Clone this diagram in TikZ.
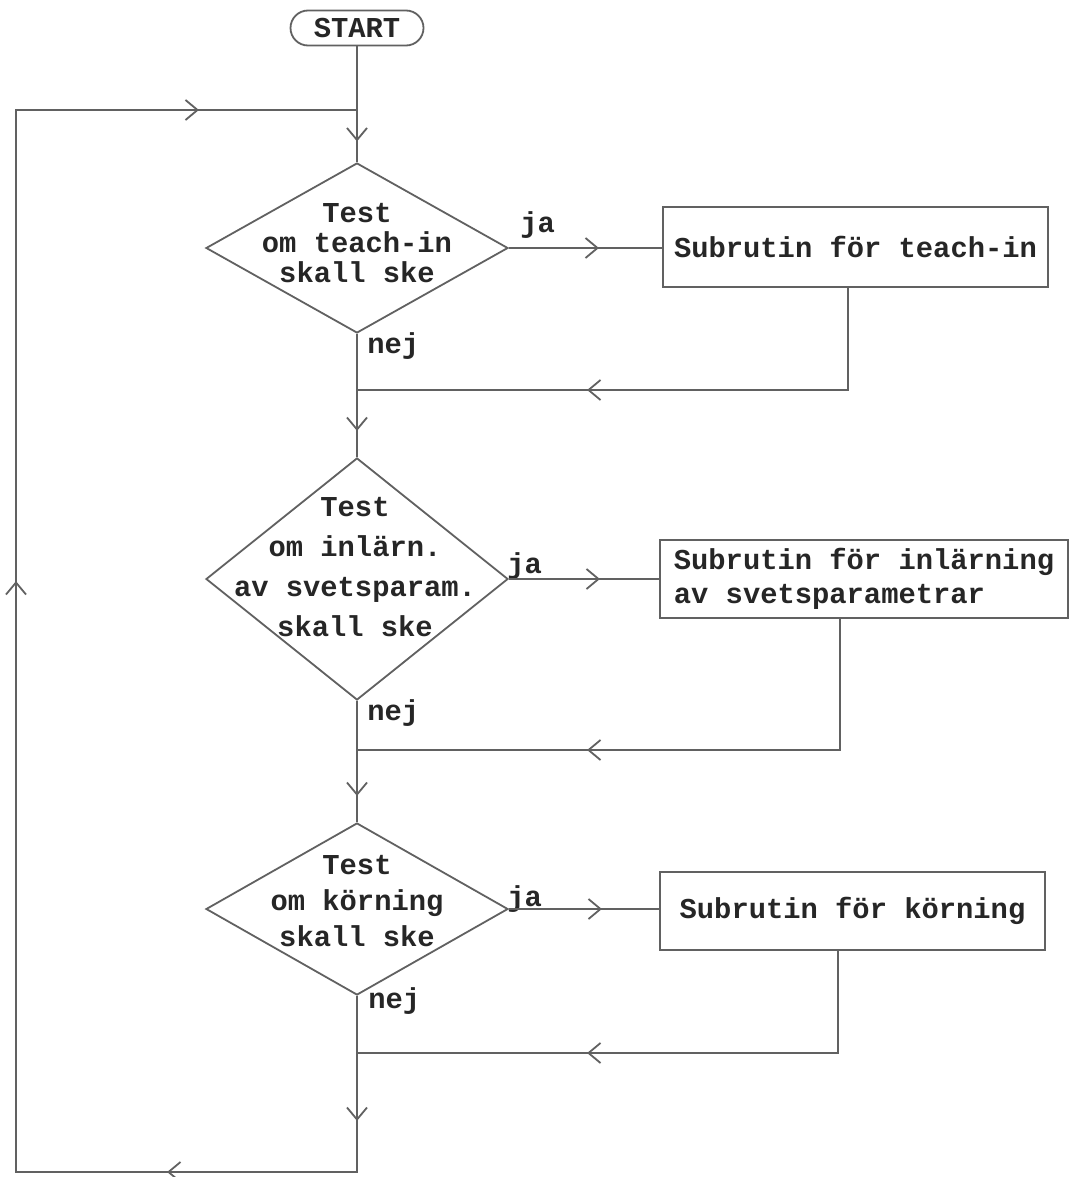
\documentclass[tikz,border=0pt]{standalone}
\usepackage{fontspec}
\newfontfamily\flowfamily{Liberation Mono}
\usetikzlibrary{shapes.geometric,shapes.misc,arrows.meta,decorations.markings}
\definecolor{linegray}{gray}{0.38}
\definecolor{ink}{gray}{0.15}
\newcommand{\flowsize}[1]{\flowfamily\bfseries\fontsize{14.4}{#1}\selectfont}

\begin{document}
\begin{tikzpicture}[x=0.5pt,y=-0.5pt,
  >={Straight Barb[length=6pt,width=10pt]},
  wire/.style={draw=linegray,line width=0.9pt},
  tipat/.style={postaction={decorate,decoration={markings,mark=at position #1 with {\arrow{>}}}}},
  decision/.style={diamond,wire,minimum width=151pt,inner sep=0pt},
  subbox/.style={rectangle,wire,inner sep=0pt,font={\flowsize{17pt}},text=ink},
  txt/.style={font={\flowsize{15pt}},text=ink,inner sep=0pt},
  lbl/.style={txt,anchor=base west},
]
\fill[white] (0,0) rectangle (1079,1177);
\useasboundingbox (0,0) rectangle (1079,1177);

% start terminal
\node[txt,rounded rectangle,wire,minimum width=66.5pt,minimum height=17.5pt] (start) at (357,28) {START};

% decisions
\node[decision,minimum height=85pt]  (d1) at (357,248) {};
\node[decision,minimum height=121pt] (d2) at (357,579) {};
\node[decision,minimum height=86pt]  (d3) at (357,909) {};

\node[txt,align=center,font={\flowsize{15pt}}] (d1t) at (357,243) {Test\\om teach-in\\skall ske};
\node[txt,align=center,font={\flowsize{20pt}}] (d2t) at (355,567) {Test\\om inlärn.\\av svetsparam.\\skall ske};
\node[txt,align=center,font={\flowsize{18pt}}] (d3t) at (357,901) {Test\\om körning\\skall ske};

% subroutines
\node[subbox,minimum width=192.5pt,minimum height=40pt] (b1) at (855.5,247) {Subrutin för teach-in};
\node[subbox,minimum width=204pt,minimum height=39pt,align=left] (b2) at (864,579) {Subrutin för inlärning\\av svetsparametrar};
\node[subbox,minimum width=192.5pt,minimum height=39pt] (b3) at (852.5,911) {Subrutin för körning};

% branch labels
\node[lbl] (ja1) at (520,232) {ja};
\node[lbl] (ja2) at (507,573) {ja};
\node[lbl] (ja3) at (507,906) {ja};
\node[lbl] (nej1) at (367,353) {nej};
\node[lbl] (nej2) at (367,720) {nej};
\node[lbl] (nej3) at (368,1008) {nej};

% junctions and loop corners
\coordinate (j0) at (357,110);
\coordinate (j1) at (357,390);
\coordinate (j2) at (357,750);
\coordinate (j3) at (357,1053);
\coordinate (c1) at (357,1172);
\coordinate (c2) at (16,1172);
\coordinate (c3) at (16,110);

% main trunk
\draw[wire,tipat=47.5pt] (start.south) -- (d1.north);
\draw[wire,tipat=48.5pt] (d1.south) -- (d2.north);
\draw[wire,tipat=47.5pt] (d2.south) -- (d3.north);
\draw[wire,tipat=62.5pt,tipat=183pt,tipat=554pt,tipat=881pt]
  (d3.south) -- (c1) -- (c2) -- (c3) -- (j0);

% yes branches
\draw[wire,tipat=45pt] (d1.east) -- (d1.east -| b1.west);
\draw[wire,tipat=45.5pt] (d2.east) -- (d2.east -| b2.west);
\draw[wire,tipat=46.5pt] (d3.east) -- (d3.east -| b3.west);

% returns from subroutines
\draw[wire,tipat=181.5pt] ([xshift=-3.75pt]b1.south) |- (j1);
\draw[wire,tipat=192pt] ([xshift=-12pt]b2.south) |- (j2);
\draw[wire,tipat=176.5pt] ([xshift=-7.25pt]b3.south) |- (j3);
\end{tikzpicture}
\end{document}
